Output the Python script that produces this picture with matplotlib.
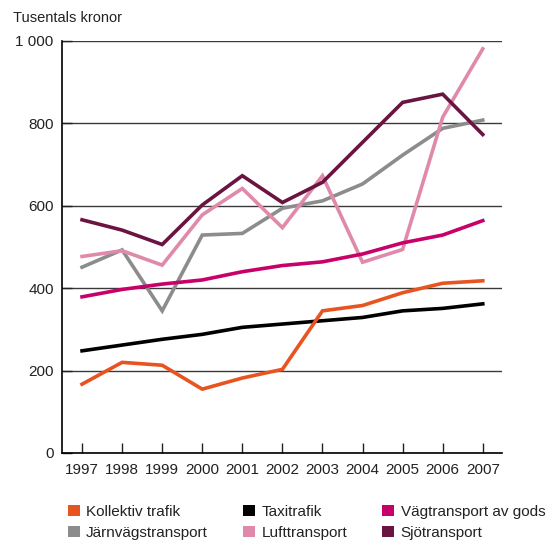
import matplotlib
matplotlib.use('Agg')
from matplotlib import pyplot as plt
from matplotlib.patches import Patch
from matplotlib.ticker import FuncFormatter

plt.rcParams['font.family'] = ['Liberation Sans', 'DejaVu Sans']

# Data (tusentals kronor)
years = [1997, 1998, 1999, 2000, 2001, 2002, 2003, 2004, 2005, 2006, 2007]
kollektiv = [167, 220, 213, 155, 182, 203, 345, 358, 389, 412, 418]
taxi = [248, 262, 276, 288, 305, 313, 321, 329, 345, 351, 362]
vagtransport = [379, 397, 410, 420, 440, 455, 464, 483, 510, 529, 564]
jarnvag = [451, 493, 345, 529, 533, 594, 612, 653, 723, 788, 808]
luft = [477, 491, 456, 578, 642, 547, 673, 463, 494, 815, 981]
sjo = [566, 541, 506, 602, 673, 608, 657, 754, 851, 871, 773]

series = [
    ('Järnvägstransport', jarnvag, '#8c8c8c'),
    ('Lufttransport', luft, '#e08aab'),
    ('Sjötransport', sjo, '#6a1541'),
    ('Vägtransport av gods', vagtransport, '#c8006a'),
    ('Taxitrafik', taxi, '#000000'),
    ('Kollektiv trafik', kollektiv, '#e8541f'),
]
colors = dict((name, c) for name, vals, c in series)

fig = plt.figure(figsize=(5.52, 5.41), dpi=100)
ax = fig.add_axes([62/552, 1 - 453/541, 440/552, 412/541])

for name, vals, c in series:
    ax.plot(years, vals, color=c, lw=2.6, solid_joinstyle='miter', zorder=3)

ax.set_xlim(1996.5, 2007.48)
ax.set_ylim(0, 1000)
ax.set_xticks(years)
ax.set_yticks([0, 200, 400, 600, 800, 1000])
ax.yaxis.set_major_formatter(FuncFormatter(lambda v, p: '{:,}'.format(int(v)).replace(',', ' ')))
ax.grid(axis='y', color='#3a3a3a', lw=1.0, zorder=1)
ax.tick_params(axis='both', direction='in', length=7, width=1, color='#222222',
               labelsize=11, labelcolor='#222222', pad=6)
ax.tick_params(axis='x', pad=7)
for s in ['top', 'right']:
    ax.spines[s].set_visible(False)
for s in ['left', 'bottom']:
    ax.spines[s].set_linewidth(1.2)

fig.text(13/552, 1 - 18/541, 'Tusentals kronor', fontsize=10.5, va='center', ha='left',
         color='#222222')

#Legend, filled column by column
order = ['Kollektiv trafik', 'Järnvägstransport', 'Taxitrafik', 'Lufttransport',
         'Vägtransport av gods', 'Sjötransport']
handles = [Patch(facecolor=colors[n], edgecolor='none', label=n) for n in order]
leg = fig.legend(handles=handles, ncol=3, loc='upper left', bbox_to_anchor=(60/552, 1 - 497/541),
                 frameon=False, fontsize=11, handlelength=0.8, handleheight=0.75,
                 handletextpad=0.4, columnspacing=2.3, labelspacing=0.45, borderpad=0)
for t in leg.get_texts():
    t.set_color('#222222')

fig.savefig('out.png', dpi=100)
